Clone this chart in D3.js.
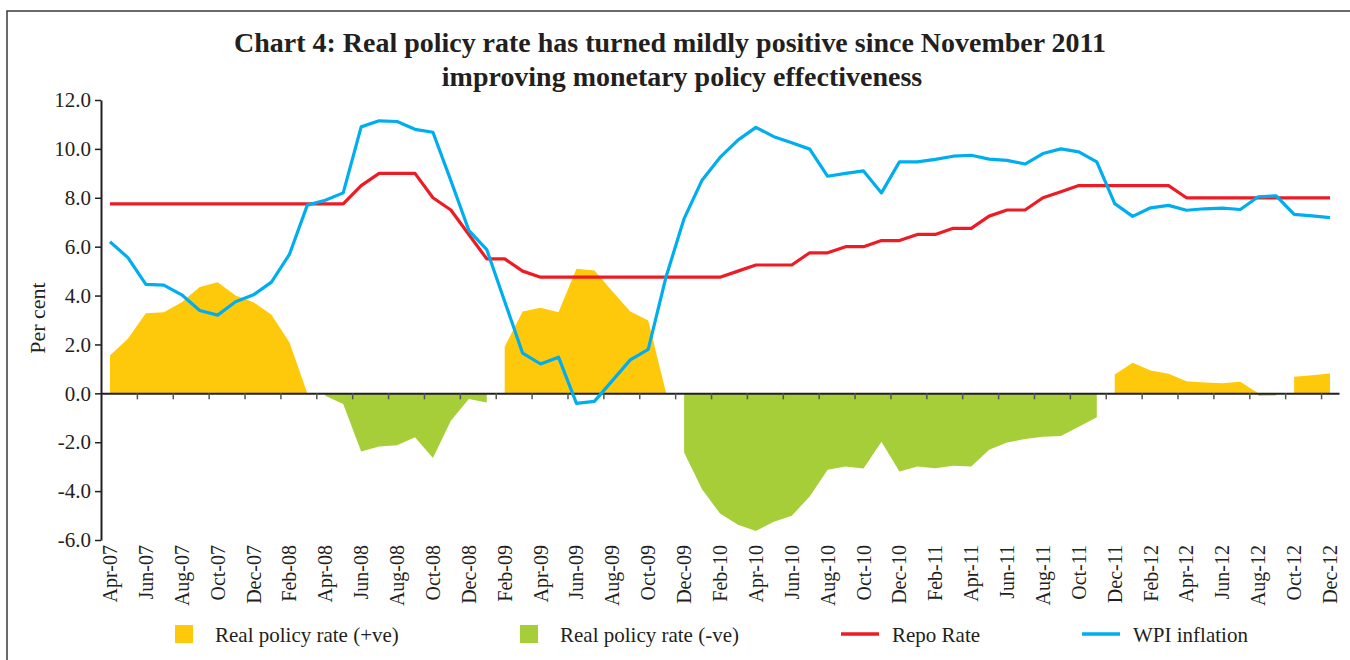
<!DOCTYPE html>
<html>
<head>
<meta charset="utf-8">
<script src="https://cdn.jsdelivr.net/npm/d3@7"></script>
<style>
  html, body { margin: 0; padding: 0; background: #fff; }
  svg { display: block; font-family: 'Liberation Serif', 'Times New Roman', serif; }
</style>
</head>
<body>
<div id="chart"></div>
<script>
// monthly categories, Apr-07 .. Dec-12
const months = [
  'Apr-07', 'May-07', 'Jun-07', 'Jul-07', 'Aug-07', 'Sep-07', 'Oct-07', 'Nov-07', 'Dec-07', 'Jan-08', 'Feb-08', 'Mar-08',
  'Apr-08', 'May-08', 'Jun-08', 'Jul-08', 'Aug-08', 'Sep-08', 'Oct-08', 'Nov-08', 'Dec-08', 'Jan-09', 'Feb-09', 'Mar-09',
  'Apr-09', 'May-09', 'Jun-09', 'Jul-09', 'Aug-09', 'Sep-09', 'Oct-09', 'Nov-09', 'Dec-09', 'Jan-10', 'Feb-10', 'Mar-10',
  'Apr-10', 'May-10', 'Jun-10', 'Jul-10', 'Aug-10', 'Sep-10', 'Oct-10', 'Nov-10', 'Dec-10', 'Jan-11', 'Feb-11', 'Mar-11',
  'Apr-11', 'May-11', 'Jun-11', 'Jul-11', 'Aug-11', 'Sep-11', 'Oct-11', 'Nov-11', 'Dec-11', 'Jan-12', 'Feb-12', 'Mar-12',
  'Apr-12', 'May-12', 'Jun-12', 'Jul-12', 'Aug-12', 'Sep-12', 'Oct-12', 'Nov-12', 'Dec-12'
];

const wpiInflation = [
  6.2, 5.55, 4.46, 4.43, 4.03, 3.39, 3.2, 3.75, 4.03, 4.55, 5.68, 7.7,
  7.9, 8.2, 10.9, 11.15, 11.12, 10.8, 10.68, 8.7, 6.67, 5.88, 3.76, 1.64,
  1.2, 1.48, -0.41, -0.33, 0.52, 1.37, 1.8, 4.78, 7.15, 8.72, 9.65, 10.36,
  10.88, 10.5, 10.25, 9.99, 8.88, 9.0, 9.1, 8.2, 9.47, 9.47, 9.57, 9.7,
  9.74, 9.58, 9.53, 9.38, 9.81, 10.0, 9.88, 9.47, 7.76, 7.24, 7.59, 7.69,
  7.49, 7.55, 7.58, 7.52, 8.04, 8.08, 7.32, 7.26, 7.19
];

const repoRate = [
  7.75, 7.75, 7.75, 7.75, 7.75, 7.75, 7.75, 7.75, 7.75, 7.75, 7.75, 7.75,
  7.75, 7.75, 8.5, 9.0, 9.0, 9.0, 8.0, 7.5, 6.5, 5.5, 5.5, 5.0,
  4.75, 4.75, 4.75, 4.75, 4.75, 4.75, 4.75, 4.75, 4.75, 4.75, 4.75, 5.0,
  5.25, 5.25, 5.25, 5.75, 5.75, 6.0, 6.0, 6.25, 6.25, 6.5, 6.5, 6.75,
  6.75, 7.25, 7.5, 7.5, 8.0, 8.25, 8.5, 8.5, 8.5, 8.5, 8.5, 8.5,
  8.0, 8.0, 8.0, 8.0, 8.0, 8.0, 8.0, 8.0, 8.0
];

// real policy rate split in two series, null = no value that month
const realPositive = [
  1.55, 2.23, 3.28, 3.32, 3.73, 4.35, 4.54, 4.0, 3.73, 3.21, 2.09, 0,
  null, null, null, null, null, null, null, null, null, null, 1.91, 3.35,
  3.5, 3.32, 5.1, 5.03, 4.18, 3.35, 2.98, 0, null, null, null, null,
  null, null, null, null, null, null, null, null, null, null, null, null,
  null, null, null, null, null, null, null, null, 0.77, 1.25, 0.93, 0.8,
  0.49, 0.44, 0.41, 0.47, 0, null, 0.68, 0.74, 0.81
];

const realNegative = [
  null, null, null, null, null, null, null, null, null, null, null, null,
  -0.1, -0.44, -2.38, -2.17, -2.12, -1.8, -2.65, -1.12, -0.23, -0.37, null, null,
  null, null, null, null, null, null, null, null, -2.42, -3.92, -4.92, -5.38,
  -5.63, -5.25, -5.01, -4.22, -3.13, -2.99, -3.07, -1.98, -3.2, -2.99, -3.06, -2.96,
  -2.99, -2.31, -2.01, -1.87, -1.78, -1.75, -1.37, -0.98, null, null, null, null,
  null, null, null, null, -0.1, -0.09, null, null, null
];

const yTicks = [-6, -4, -2, 0, 2, 4, 6, 8, 10, 12];
const titleLines = [
  'Chart 4: Real policy rate has turned mildly positive since November 2011',
  'improving monetary policy effectiveness'
];

const WIDTH = 1350;
const HEIGHT = 660;
const MARGIN = { TOP: 100, RIGHT: 11, BOTTOM: 120, LEFT: 101 };
const COLOR = { POS: '#FFC90B', NEG: '#A6CE39', REPO: '#ED1C24', WPI: '#00AEEF', TEXT: '#231F20' };

const svg = d3.select('#chart').append('svg').attr('width', WIDTH).attr('height', HEIGHT);

// frame (left and top edges only are visible)
svg.append('path')
  .attr('d', 'M7,' + HEIGHT + 'V11H' + WIDTH)
  .attr('fill', 'none')
  .attr('stroke', '#3a3a3a')
  .attr('stroke-width', 1.5);

const xScale = d3.scaleBand().domain(months).range([MARGIN.LEFT, WIDTH - MARGIN.RIGHT]).padding(0);
const xMid = (m) => xScale(m) + xScale.bandwidth() / 2;
// same range, used for tick marks on band boundaries
const xEdge = d3.scaleLinear().domain([0, months.length]).range(xScale.range());
const yScale = d3.scaleLinear().domain([-6, 12]).range([HEIGHT - MARGIN.BOTTOM, MARGIN.TOP]);

const rows = months.map((m, i) => ({
  month: m,
  wpi: wpiInflation[i],
  repo: repoRate[i],
  pos: realPositive[i],
  neg: realNegative[i]
}));

// areas
const makeArea = (key) => d3.area()
  .defined((d) => d[key] != null)
  .x((d) => xMid(d.month))
  .y0(yScale(0))
  .y1((d) => yScale(d[key]));

svg.append('path').datum(rows).attr('fill', COLOR.POS).attr('d', makeArea('pos'));
svg.append('path').datum(rows).attr('fill', COLOR.NEG).attr('d', makeArea('neg'));

// y axis
const yAxis = svg.append('g')
  .attr('transform', 'translate(' + MARGIN.LEFT + ',0)')
  .call(d3.axisLeft(yScale).tickValues(yTicks).tickSizeInner(6).tickSizeOuter(0).tickPadding(4)
    .tickFormat((d) => d.toFixed(1)));
yAxis.select('.domain').attr('stroke', COLOR.TEXT).attr('stroke-width', 2);
yAxis.selectAll('.tick line').attr('stroke', COLOR.TEXT).attr('stroke-width', 1.5);
yAxis.selectAll('.tick text').attr('fill', COLOR.TEXT).attr('font-size', 21).attr('font-family', 'Liberation Serif');

// x axis along zero line
const xAxis = svg.append('g')
  .attr('transform', 'translate(0,' + yScale(0) + ')')
  .call(d3.axisBottom(xEdge).tickValues(d3.range(2, months.length, 2)).tickSizeInner(6).tickSizeOuter(0)
    .tickFormat(() => ''));
xAxis.select('.domain').attr('stroke', COLOR.TEXT).attr('stroke-width', 2);
xAxis.selectAll('.tick line').attr('stroke', '#555').attr('stroke-width', 1.5);

// month labels below the plot
const xLabels = svg.append('g')
  .attr('transform', 'translate(0,' + (HEIGHT - MARGIN.BOTTOM) + ')')
  .call(d3.axisBottom(xScale).tickValues(months.filter((d, i) => i % 2 === 0)).tickSize(0));
xLabels.select('.domain').remove();
xLabels.selectAll('.tick text')
  .attr('fill', COLOR.TEXT)
  .attr('font-size', 20)
  .attr('font-family', 'Liberation Serif')
  .attr('transform', 'rotate(-90)')
  .attr('x', -5)
  .attr('y', 0)
  .attr('dy', '0.35em')
  .style('text-anchor', 'end');

svg.append('text')
  .attr('transform', 'translate(45,318) rotate(-90)')
  .attr('text-anchor', 'middle')
  .attr('fill', COLOR.TEXT)
  .attr('font-size', 22)
  .text('Per cent');

// lines
const makeLine = (key) => d3.line().x((d) => xMid(d.month)).y((d) => yScale(d[key]));
svg.append('path').datum(rows)
  .attr('fill', 'none').attr('stroke', COLOR.REPO).attr('stroke-width', 3.2).attr('stroke-linejoin', 'round')
  .attr('d', makeLine('repo'));
svg.append('path').datum(rows)
  .attr('fill', 'none').attr('stroke', COLOR.WPI).attr('stroke-width', 3.2).attr('stroke-linejoin', 'round')
  .attr('d', makeLine('wpi'));

// title
const title = svg.append('g').attr('fill', COLOR.TEXT).attr('font-weight', 'bold').attr('text-anchor', 'middle');
const t1 = title.append('text').attr('x', 670).attr('y', 52).attr('font-size', 28).text(titleLines[0]);
const fit = 28 * 872 / t1.node().getComputedTextLength();
t1.attr('font-size', fit);
title.append('text').attr('x', 682).attr('y', 86).attr('font-size', fit).text(titleLines[1]);

// legend
const legendItems = [
  { label: 'Real policy rate (+ve)', color: COLOR.POS, type: 'box', x: 175 },
  { label: 'Real policy rate (-ve)', color: COLOR.NEG, type: 'box', x: 520 },
  { label: 'Repo Rate', color: COLOR.REPO, type: 'line', x: 841 },
  { label: 'WPI inflation', color: COLOR.WPI, type: 'line', x: 1082 }
];
const legend = svg.append('g').attr('transform', 'translate(0,634)');
legendItems.forEach((d) => {
  if (d.type === 'box') {
    legend.append('rect').attr('x', d.x).attr('y', -9).attr('width', 18).attr('height', 18).attr('fill', d.color);
    legend.append('text').attr('x', d.x + 40).attr('y', 8).attr('font-size', 21).attr('fill', COLOR.TEXT).text(d.label);
  } else {
    legend.append('line').attr('x1', d.x).attr('x2', d.x + 38).attr('y1', 0).attr('y2', 0)
      .attr('stroke', d.color).attr('stroke-width', 3.5);
    legend.append('text').attr('x', d.x + 51).attr('y', 8).attr('font-size', 21).attr('fill', COLOR.TEXT).text(d.label);
  }
});
</script>
</body>
</html>
